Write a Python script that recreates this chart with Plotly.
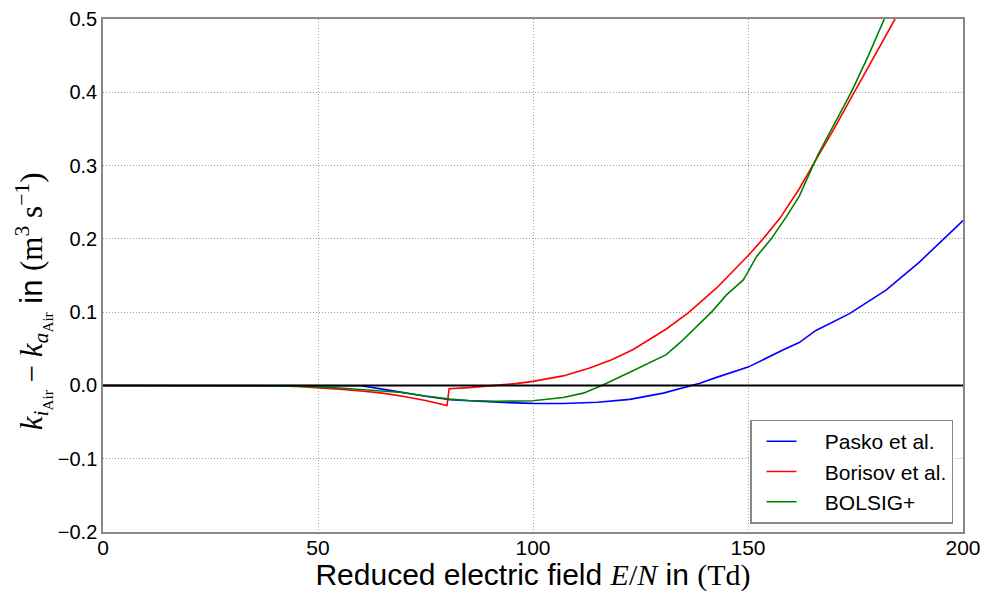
import plotly.graph_objects as go

# Reduced electric field E/N (Td) and rate-coefficient differences (m^3 s^-1)
pasko_x = [0, 40, 55, 60, 65, 70, 75, 80.7, 85, 92, 100, 107, 115, 122.5, 130.3,
           136.1, 138.8, 142.7, 150, 158, 161.9, 165.8, 173.6, 182.1, 189.8, 200]
pasko_y = [0.0, 0.0, 0.0, -0.0005, -0.005, -0.010, -0.0148, -0.0196, -0.021, -0.023,
           -0.0245, -0.0247, -0.023, -0.019, -0.0105, -0.001, 0.003, 0.011, 0.025,
           0.048, 0.0585, 0.075, 0.098, 0.130, 0.168, 0.225]

borisov_x = [0, 35, 40, 46, 50, 55, 60, 65, 70, 75, 80, 80.5, 85, 90, 92, 96, 100,
             107, 113, 118.3, 123.3, 131, 136.1, 142.7, 150, 153.5, 157.4, 161.9,
             165, 170, 174.7, 179.5, 184.2]
borisov_y = [0.0, 0.0, -0.0005, -0.0018, -0.003, -0.005, -0.0075, -0.0105, -0.015,
             -0.0205, -0.0275, -0.0045, -0.003, -0.0008, 0.0, 0.0025, 0.0055, 0.013,
             0.0235, 0.035, 0.049, 0.077, 0.099, 0.133, 0.177, 0.200, 0.228, 0.268,
             0.300, 0.350, 0.400, 0.450, 0.500]

bolsig_x = [0, 35, 40, 46, 55, 61.4, 69.6, 75, 80.7, 85, 91.6, 100, 104, 107, 111.7,
            116, 122.5, 126, 131, 134.5, 138.8, 141.5, 145, 148.9, 150, 152, 155.4,
            158.9, 161.9, 165.1, 166.2, 170, 174, 178, 181.7]
bolsig_y = [0.0, 0.0, -0.0003, -0.001, -0.0035, -0.006, -0.0097, -0.0145, -0.0187,
            -0.0205, -0.0215, -0.021, -0.019, -0.0165, -0.0105, 0.0, 0.018, 0.028,
            0.042, 0.060, 0.085, 0.100, 0.1236, 0.144, 0.155, 0.176, 0.200, 0.230,
            0.258, 0.300, 0.314, 0.356, 0.400, 0.450, 0.500]

series = [
    ("Pasko et al.", pasko_x, pasko_y, "#0000ff"),
    ("Borisov et al.", borisov_x, borisov_y, "#ff0000"),
    ("BOLSIG+", bolsig_x, bolsig_y, "#008000"),
]

x_ticks = [0, 50, 100, 150, 200]
y_ticks = [-0.2, -0.1, 0.0, 0.1, 0.2, 0.3, 0.4, 0.5]

SANS = "Liberation Sans, Arial, sans-serif"
SERIF = "Liberation Serif, DejaVu Serif, serif"

fig = go.Figure()
for name, xs, ys, color in series:
    fig.add_trace(go.Scatter(
        x=xs, y=ys, mode="lines", name="    " + name,
        line=dict(color=color, width=1.6),
    ))

# reference line at zero, drawn above the curves
fig.add_hline(y=0, line=dict(color="black", width=2), layer="above")

axis_common = dict(
    showline=True, linecolor="#888888", linewidth=1.5, mirror=True,
    showgrid=True, gridcolor="#a0a0a0", griddash="1px,2px", gridwidth=1,
    zeroline=False, ticks="", automargin=False,
)

fig.update_layout(
    template="none",
    width=984, height=592,
    margin=dict(l=103, r=21, t=19, b=60),
    paper_bgcolor="white", plot_bgcolor="white",
    showlegend=True,
    legend=dict(
        x=0.9884, y=0.0165, xanchor="right", yanchor="bottom",
        bgcolor="white", bordercolor="#888888", borderwidth=1.5,
        font=dict(family=SANS, size=21, color="black"),
        indentation=10,
    ),
    xaxis=dict(
        range=[0, 200], tickvals=x_ticks, ticktext=[str(v) for v in x_ticks],
        tickfont=dict(family=SANS, size=21, color="black"),
        ticklabelstandoff=-4,
        title=dict(
            text=("Reduced electric field "
                  f"<span style='font-family:{SERIF}'><i>E</i>/<i>N</i></span> in "
                  f"<span style='font-family:{SERIF}'>(Td)</span>"),
            font=dict(family=SANS, size=30, color="black"), standoff=6,
        ),
        **axis_common,
    ),
    yaxis=dict(
        range=[-0.2, 0.5], tickvals=y_ticks, tickformat=".1f",
        tickfont=dict(family=SANS, size=20, color="black"),
        title=dict(
            text=(f"<span style='font-family:{SERIF}'><i>k</i><sub><i>i</i><sub>Air</sub></sub>"
                  f" − <i>k</i><sub><i>a</i><sub>Air</sub></sub></span> in "
                  f"<span style='font-family:{SERIF}'>(m<sup>3</sup> s<sup>−1</sup>)</span>"
                  + "&nbsp;" * 6),
            font=dict(family=SANS, size=31, color="black"), standoff=6,
        ),
        **axis_common,
    ),
)

fig.write_html("out.html")
